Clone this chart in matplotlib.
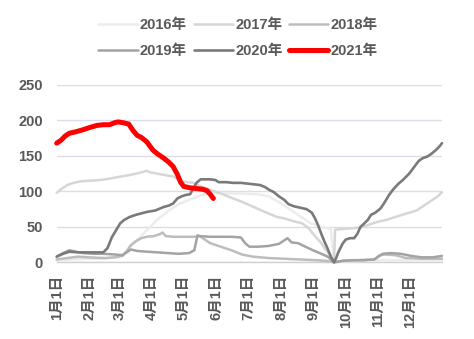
import matplotlib
matplotlib.use("Agg")
import matplotlib.pyplot as plt

plt.rcParams['font.family'] = ['Liberation Sans', 'Noto Sans CJK SC', 'DejaVu Sans']
plt.rcParams['font.weight'] = 'bold'

# month-start ticks (day of year)
tick_days = [0, 31, 59, 90, 120, 151, 181, 212, 243, 273, 304, 334]
tick_labels = ["1月1日", "2月1日", "3月1日", "4月1日", "5月1日", "6月1日",
               "7月1日", "8月1日", "9月1日", "10月1日", "11月1日", "12月1日"]

years = ["2016年", "2017年", "2018年", "2019年", "2020年", "2021年"]
colors = ["#ececec", "#d6d6d6", "#bdbdbd", "#a3a3a3", "#7a7a7a", "#ff0000"]
widths = [1.8, 1.8, 1.8, 1.8, 1.9, 3.6]

d2016 = [0, 15, 30, 45, 58, 63, 68, 75, 85, 95, 105, 115, 125, 133, 140, 150, 160, 175,
         190, 200, 210, 220, 230, 240, 250, 256, 259, 262, 270, 290, 310, 330, 364]
v2016 = [3, 4, 5, 5, 7, 12, 20, 30, 45, 60, 72, 82, 88, 93, 96, 98, 97, 97,
         96, 93, 85, 75, 65, 55, 50, 48, 47, 0, 1, 2, 3, 3, 3]

d2017 = [0, 5, 10, 16, 22, 30, 41, 50, 57, 65, 72, 78, 85, 88, 95, 102, 110, 118, 124,
         129, 136, 145, 155, 165, 174, 183, 192, 200, 208, 215, 219, 226, 232, 238, 244,
         250, 253, 257, 260, 262, 263, 270, 280, 287, 295, 303, 312, 320, 331, 340, 350,
         356, 360, 364]
v2017 = [98, 104, 109, 112, 114, 115, 116, 118, 120, 122, 124, 126, 129, 127, 125, 123,
         121, 114, 113, 112, 107, 102, 97, 91, 86, 80, 74, 69, 64, 62, 60, 57, 55, 48, 37,
         27, 20, 12, 5, 0, 46, 47, 48, 49, 53, 57, 60, 64, 69, 73, 83, 89, 93, 99]

d2018 = [0, 10, 20, 30, 45, 55, 62, 66, 70, 75, 80, 85, 92, 98, 100, 103, 110, 120, 130,
         135, 140, 145, 155, 165, 175, 185, 200, 215, 230, 245, 255, 262, 270, 285, 300,
         305, 310, 320, 330, 345, 364]
v2018 = [4, 6, 8, 7, 6, 7, 9, 15, 24, 30, 34, 36, 37, 40, 42, 37, 36, 36, 36,
         37, 32, 27, 22, 17, 11, 8, 6, 5, 4, 3, 2, 0, 2, 3, 4,
         10, 11, 10, 6, 5, 5]

d2019 = [0, 6, 12, 18, 25, 35, 44, 55, 62, 66, 70, 76, 85, 95, 105, 115, 125, 130, 133,
         135, 145, 155, 165, 174, 178, 182, 190, 200, 210, 218, 222, 228, 235, 242, 250,
         256, 262, 270, 280, 290, 300, 305, 308, 315, 325, 335, 345, 355, 364]
v2019 = [8, 13, 17, 15, 13, 12, 12, 11, 10, 14, 18, 16, 15, 14, 13, 12, 13, 17, 38,
         37, 36, 36, 36, 35, 27, 22, 22, 23, 26, 34, 28, 27, 22, 17, 12,
         8, 0, 2, 3, 3, 4, 9, 12, 13, 12, 9, 7, 7, 9]

d2020 = [0, 6, 12, 20, 30, 44, 48, 52, 56, 60, 64, 69, 75, 85, 93, 101, 106, 110, 114,
         118, 122, 126, 129, 132, 136, 140, 145, 150, 153, 160, 167, 174, 180, 186, 192,
         197, 201, 205, 210, 215, 219, 224, 230, 236, 241, 244, 247, 250, 253, 256, 259,
         262, 264, 266, 268, 270, 273, 277, 281, 284, 287, 290, 294, 297, 301, 306, 310,
         314, 318, 323, 327, 333, 337, 342, 346, 350, 354, 358, 362, 364]
v2020 = [8, 12, 15, 14, 14, 14, 20, 35, 45, 55, 60, 64, 67, 71, 73, 78, 80, 83, 90,
         93, 95, 96, 104, 112, 117, 117, 117, 116, 113, 113, 112, 112, 111, 110, 109,
         106, 102, 99, 93, 88, 82, 79, 77, 75, 70, 62, 52, 40, 29, 19, 8,
         0, 6, 14, 20, 26, 32, 34, 34, 40, 50, 54, 60, 67, 70, 76, 85,
         95, 103, 111, 116, 125, 133, 143, 147, 149, 153, 158, 164, 168]

d2021 = [0, 4, 8, 12, 18, 25, 31, 38, 44, 50, 55, 58, 62, 68, 72, 76, 80, 85, 91, 96,
         101, 106, 110, 114, 117, 120, 126, 132, 138, 142, 145, 148]
v2021 = [168, 172, 178, 182, 184, 187, 190, 193, 194, 194, 197, 198, 197, 195, 186, 179,
         176, 170, 158, 152, 147, 141, 135, 124, 113, 107, 105, 104, 103, 101, 96, 90]

series_days = [d2016, d2017, d2018, d2019, d2020, d2021]
series_vals = [v2016, v2017, v2018, v2019, v2020, v2021]

fig = plt.figure(figsize=(4.74, 3.39), dpi=100)
ax = fig.add_axes([56.7 / 474, 1 - 262.3 / 339, (442 - 56.7) / 474, (262.3 - 85) / 339])

handles = []
for i, (dd, vv) in enumerate(zip(series_days, series_vals)):
    ln, = ax.plot(dd, vv, color=colors[i], lw=widths[i], label=years[i],
                  solid_joinstyle='round', solid_capstyle='round',
                  clip_on=False, zorder=3 + i)
    handles.append(ln)

ax.set_xlim(0, 364)
ax.set_ylim(0, 250)
ax.set_yticks(range(0, 251, 50))
ax.set_xticks(tick_days)
ax.set_xticklabels(tick_labels, rotation=90, va='top', ha='center')

for s in ["top", "right", "left"]:
    ax.spines[s].set_visible(False)
ax.spines["bottom"].set_color("#d0d0d0")
ax.spines["bottom"].set_linewidth(1.0)

ax.grid(axis='y', color='#dcdde8', lw=1.0)
ax.set_axisbelow(True)
ax.tick_params(axis='both', length=0, labelsize=10.5, labelcolor='#595959')
ax.tick_params(axis='y', pad=10)
ax.tick_params(axis='x', pad=9)

# legend fills column by column, so interleave to read row by row
order = [0, 3, 1, 4, 2, 5]
fig.legend(handles=[handles[k] for k in order], labels=[years[k] for k in order],
           ncol=3, loc='center', bbox_to_anchor=(238 / 474, 1 - 38 / 339),
           frameon=False, fontsize=10.5, labelcolor='#595959', handlelength=2.7,
           handletextpad=0.15, columnspacing=0.45, labelspacing=0.85)

fig.savefig("out.png", dpi=100, facecolor='white')
